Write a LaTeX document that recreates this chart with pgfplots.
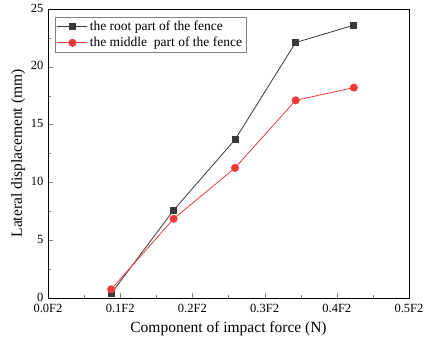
\documentclass[border=0pt]{standalone}
\usepackage{fontspec}
\setmainfont{Liberation Serif}
\usepackage{pgfplots}
\pgfplotsset{compat=1.18}
\definecolor{rootgray}{HTML}{3A3A3A}
\definecolor{midred}{HTML}{F03A3A}
\begin{document}
\begin{tikzpicture}
\begin{axis}[
  width=361pt, height=289pt,
  scale only axis,
  xmin=0, xmax=0.5,
  ymin=0, ymax=25,
  xtick={0,0.1,0.2,0.3,0.4,0.5},
  xticklabels={0.0F2,0.1F2,0.2F2,0.3F2,0.4F2,0.5F2},
  ytick={0,5,10,15,20,25},
  minor x tick num=1,
  minor y tick num=1,
  tick align=inside,
  tick pos=left,
  major tick length=5pt,
  minor tick length=3pt,
  tick label style={font=\fontsize{12.5}{14}\selectfont},
  xticklabel style={yshift=-3pt},
  yticklabel style={xshift=-1pt, yshift=1pt},
  /pgf/number format/assume math mode=true,
  xlabel={Component of impact force (N)},
  ylabel={Lateral displacement (mm)},
  xlabel style={font=\fontsize{15.5}{17}\selectfont, yshift=-2pt},
  ylabel style={font=\fontsize{15.5}{17}\selectfont, yshift=-1pt},
  axis line style={line width=0.9pt},
  legend style={at={(0.019,0.972)}, anchor=north west, draw=gray,
    font=\fontsize{13.5}{15}\selectfont, row sep=1pt, inner sep=2pt},
  legend cell align=left,
  legend image code/.code={
    \draw[mark repeat=2, mark phase=2, line width=0.8pt]
      plot coordinates {(0pt,0pt) (15pt,0pt) (30pt,0pt)};
  },
]
\addplot[rootgray, line width=0.8pt, mark=square*, mark size=3pt]
  coordinates {(0.0875,0.38) (0.174,7.6) (0.259,13.7) (0.343,22.1) (0.4236,23.6)};
\addlegendentry{the root part of the fence}
\addplot[midred, line width=0.8pt, mark=*, mark size=3.6pt]
  coordinates {(0.0875,0.75) (0.174,6.85) (0.259,11.25) (0.343,17.1) (0.4236,18.2)};
\addlegendentry{the middle\ \ part of the fence}
\end{axis}
\path ([xshift=-48pt,yshift=-49pt]current axis.south west)
  rectangle ([xshift=18pt,yshift=9pt]current axis.north east);
\end{tikzpicture}
\end{document}
